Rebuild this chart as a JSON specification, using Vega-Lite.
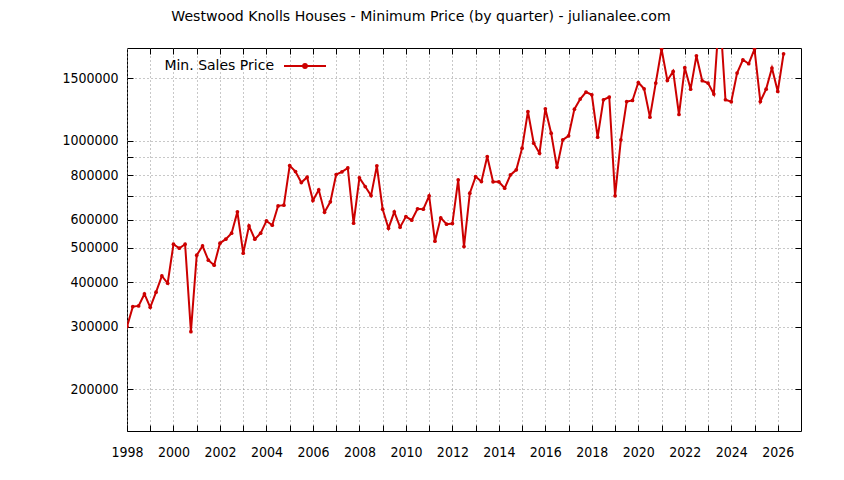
{
  "$schema": "https://vega.github.io/schema/vega-lite/v6.json",
  "autosize": {"type": "none"},
  "padding": {"left": 127, "top": 48, "right": 43, "bottom": 49},
  "width": 674,
  "height": 383,
  "background": "white",
  "title": {
    "text": "Westwood Knolls Houses - Minimum Price (by quarter) - julianalee.com",
    "font": "DejaVu Sans",
    "fontSize": 14.1,
    "fontWeight": "normal",
    "color": "black",
    "anchor": "middle",
    "dx": -43,
    "offset": 20
  },
  "data": {
    "values": [
      {"year": 1998.00, "price": 300000}, {"year": 1998.25, "price": 341500}, {"year": 1998.50, "price": 343000}, {"year": 1998.75, "price": 370700},
      {"year": 1999.00, "price": 340000}, {"year": 1999.25, "price": 374900}, {"year": 1999.50, "price": 416600}, {"year": 1999.75, "price": 397300},
      {"year": 2000.00, "price": 511700}, {"year": 2000.25, "price": 498500}, {"year": 2000.50, "price": 511700}, {"year": 2000.75, "price": 290300},
      {"year": 2001.00, "price": 476400}, {"year": 2001.25, "price": 506000}, {"year": 2001.50, "price": 461200}, {"year": 2001.75, "price": 446600},
      {"year": 2002.00, "price": 515000}, {"year": 2002.25, "price": 528600}, {"year": 2002.50, "price": 549500}, {"year": 2002.75, "price": 631000},
      {"year": 2003.00, "price": 482700}, {"year": 2003.25, "price": 576200}, {"year": 2003.50, "price": 528600}, {"year": 2003.75, "price": 549500},
      {"year": 2004.00, "price": 595000}, {"year": 2004.25, "price": 578800}, {"year": 2004.50, "price": 656000}, {"year": 2004.75, "price": 659000},
      {"year": 2005.00, "price": 851800}, {"year": 2005.25, "price": 819300}, {"year": 2005.50, "price": 762900}, {"year": 2005.75, "price": 790000},
      {"year": 2006.00, "price": 678900}, {"year": 2006.25, "price": 727800}, {"year": 2006.50, "price": 629800}, {"year": 2006.75, "price": 673300},
      {"year": 2007.00, "price": 803700}, {"year": 2007.25, "price": 817800}, {"year": 2007.50, "price": 839000}, {"year": 2007.75, "price": 586400},
      {"year": 2008.00, "price": 786600}, {"year": 2008.25, "price": 743500}, {"year": 2008.50, "price": 701300}, {"year": 2008.75, "price": 850200},
      {"year": 2009.00, "price": 642100}, {"year": 2009.25, "price": 567600}, {"year": 2009.50, "price": 631000}, {"year": 2009.75, "price": 571300},
      {"year": 2010.00, "price": 612000}, {"year": 2010.25, "price": 597800}, {"year": 2010.50, "price": 643400}, {"year": 2010.75, "price": 642000},
      {"year": 2011.00, "price": 700000}, {"year": 2011.25, "price": 521800}, {"year": 2011.50, "price": 606900}, {"year": 2011.75, "price": 582600},
      {"year": 2012.00, "price": 584800}, {"year": 2012.25, "price": 776800}, {"year": 2012.50, "price": 504000}, {"year": 2012.75, "price": 712200},
      {"year": 2013.00, "price": 793000}, {"year": 2013.25, "price": 768200}, {"year": 2013.50, "price": 903000}, {"year": 2013.75, "price": 766600},
      {"year": 2014.00, "price": 766600}, {"year": 2014.25, "price": 735800}, {"year": 2014.50, "price": 802000}, {"year": 2014.75, "price": 828500},
      {"year": 2015.00, "price": 953700}, {"year": 2015.25, "price": 1209000}, {"year": 2015.50, "price": 985000}, {"year": 2015.75, "price": 923000},
      {"year": 2016.00, "price": 1231000}, {"year": 2016.25, "price": 1051000}, {"year": 2016.50, "price": 842000}, {"year": 2016.75, "price": 1006500},
      {"year": 2017.00, "price": 1033000}, {"year": 2017.25, "price": 1228000}, {"year": 2017.50, "price": 1311000}, {"year": 2017.75, "price": 1372000},
      {"year": 2018.00, "price": 1348000}, {"year": 2018.25, "price": 1024000}, {"year": 2018.50, "price": 1305000}, {"year": 2018.75, "price": 1328000},
      {"year": 2019.00, "price": 700000}, {"year": 2019.25, "price": 1006500}, {"year": 2019.50, "price": 1290000}, {"year": 2019.75, "price": 1299000},
      {"year": 2020.00, "price": 1459000}, {"year": 2020.25, "price": 1401000}, {"year": 2020.50, "price": 1166000}, {"year": 2020.75, "price": 1454000},
      {"year": 2021.00, "price": 1813000}, {"year": 2021.25, "price": 1479000}, {"year": 2021.50, "price": 1568000}, {"year": 2021.75, "price": 1186000},
      {"year": 2022.00, "price": 1606000}, {"year": 2022.25, "price": 1398000}, {"year": 2022.50, "price": 1735000}, {"year": 2022.75, "price": 1476000},
      {"year": 2023.00, "price": 1454000}, {"year": 2023.25, "price": 1354000}, {"year": 2023.50, "price": 2350000}, {"year": 2023.75, "price": 1305000},
      {"year": 2024.00, "price": 1288000}, {"year": 2024.25, "price": 1551000}, {"year": 2024.50, "price": 1691000}, {"year": 2024.75, "price": 1648000},
      {"year": 2025.00, "price": 1813000}, {"year": 2025.25, "price": 1290000}, {"year": 2025.50, "price": 1398000}, {"year": 2025.75, "price": 1603000},
      {"year": 2026.00, "price": 1377000}, {"year": 2026.25, "price": 1758000}
    ]
  },
  "layer": [
    {
      "mark": {"type": "point", "opacity": 0, "clip": true},
      "encoding": {
        "x": {
          "field": "year", "type": "quantitative",
          "scale": {"domain": [1998, 2027], "nice": false, "zero": false},
          "axis": {"orient": "top", "title": null, "labels": false, "grid": false, "values": [1999, 2000, 2001, 2002, 2003, 2004, 2005, 2006, 2007, 2008, 2009, 2010, 2011, 2012, 2013, 2014, 2015, 2016, 2017, 2018, 2019, 2020, 2021, 2022, 2023, 2024, 2025, 2026]}
        },
        "y": {
          "field": "price", "type": "quantitative",
          "scale": {"type": "log", "domain": [152500, 1825000], "nice": false},
          "axis": {"orient": "right", "title": null, "labels": false, "grid": false, "values": [200000, 300000, 400000, 500000, 600000, 700000, 800000, 900000, 1000000, 1500000]}
        }
      }
    },
    {
      "mark": {"type": "line", "clip": true, "strokeWidth": 2},
      "encoding": {
        "x": {
          "field": "year", "type": "quantitative",
          "axis": {
            "orient": "bottom", "title": null, "grid": true, "format": "d",
            "values": [1998, 1999, 2000, 2001, 2002, 2003, 2004, 2005, 2006, 2007, 2008, 2009, 2010, 2011, 2012, 2013, 2014, 2015, 2016, 2017, 2018, 2019, 2020, 2021, 2022, 2023, 2024, 2025, 2026],
            "labelExpr": "datum.value % 2 == 0 ? datum.label : ''",
            "labelOverlap": false,
            "labelFlush": false,
            "labelBound": false,
            "labelPadding": 20
          }
        },
        "y": {
          "field": "price", "type": "quantitative",
          "axis": {
            "orient": "left", "title": null, "grid": true, "format": "d",
            "values": [200000, 300000, 400000, 500000, 600000, 700000, 800000, 900000, 1000000, 1500000],
            "labelExpr": "datum.value == 700000 || datum.value == 900000 ? '' : datum.label",
            "labelOverlap": false,
            "labelFlush": false,
            "labelBound": false,
            "labelPadding": 15
          }
        },
        "color": {
          "datum": "Min. Sales Price",
          "scale": {"range": ["#cc0000"]},
          "legend": {
            "orient": "none",
            "legendX": 156,
            "legendY": -4,
            "title": null,
            "padding": 0,
            "symbolType": "M-1,0H1M0.09,0A0.09,0.09,0,1,1,-0.09,0A0.09,0.09,0,1,1,0.09,0Z",
            "symbolSize": 1764,
            "symbolStrokeWidth": 2,
            "symbolStrokeColor": "#cc0000",
            "symbolFillColor": "#cc0000",
            "labelAlign": "right",
            "labelOffset": -53,
            "labelFont": "DejaVu Sans",
            "labelFontSize": 14,
            "labelColor": "black"
          }
        }
      }
    },
    {
      "mark": {"type": "point", "clip": true, "filled": true, "size": 14, "opacity": 1, "color": "#cc0000"},
      "encoding": {
        "x": {"field": "year", "type": "quantitative", "axis": null},
        "y": {"field": "price", "type": "quantitative", "axis": null}
      }
    }
  ],
  "resolve": {"axis": {"x": "independent", "y": "independent"}},
  "config": {
    "view": {"stroke": "black", "strokeWidth": 1},
    "axis": {
      "domain": false,
      "tickSize": -6,
      "tickColor": "black",
      "tickWidth": 1,
      "labelFont": "DejaVu Sans Condensed, Liberation Sans",
      "labelFontSize": 14,
      "labelColor": "black",
      "gridColor": "#909090",
      "gridDash": [1, 3],
      "gridWidth": 1,
      "gridOpacity": 1
    }
  }
}
